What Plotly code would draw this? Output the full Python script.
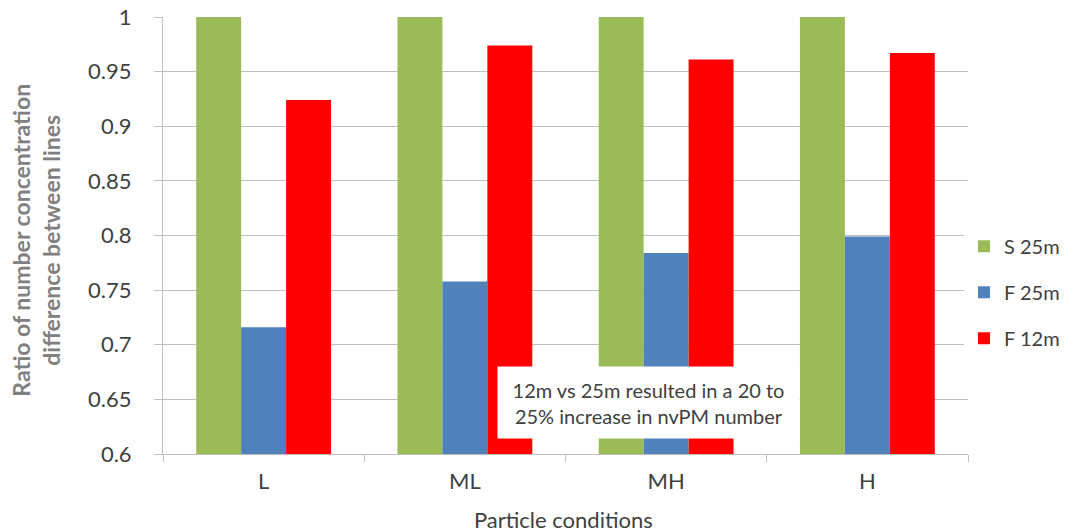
import plotly.graph_objects as go

# Particle condition categories and ratio values per line/series
conditions = ["L", "ML", "MH", "H"]
s_25m = [1.0, 1.0, 1.0, 1.0]
f_25m = [0.716, 0.758, 0.784, 0.799]
f_12m = [0.924, 0.974, 0.961, 0.967]
y_ticks = [0.6, 0.65, 0.7, 0.75, 0.8, 0.85, 0.9, 0.95, 1.0]
y_ticklabels = ["0.6", "0.65", "0.7", "0.75", "0.8", "0.85", "0.9", "0.95", "1"]

series = [
    ("S 25m", s_25m, "#9BBB59"),
    ("F 25m", f_25m, "#4F81BD"),
    ("F 12m", f_12m, "#FF0000"),
]

FONT = "Lato, 'Open Sans', sans-serif"
TXT = "#404040"

fig = go.Figure()
for name, vals, color in series:
    fig.add_trace(go.Bar(
        x=conditions, y=vals, name=name,
        marker=dict(color=color, line=dict(width=0)),
        legendgroup=name,
    ))

# the page body adds an 8px offset, so margins are shifted up/left by 8px
fig.update_layout(
    barmode="group",
    bargap=0.33,
    bargroupgap=0,
    width=1073, height=530,
    margin=dict(l=155, r=113, t=9, b=84, autoexpand=False),
    plot_bgcolor="white",
    paper_bgcolor="white",
    font=dict(family=FONT, size=20, color=TXT),
    legend=dict(
        x=0.995, y=0.37, xanchor="left", yanchor="middle",
        font=dict(size=20, color=TXT),
        tracegroupgap=17, itemwidth=30,
    ),
)

fig.update_yaxes(
    range=[0.6, 1.0], tickvals=y_ticks, ticktext=y_ticklabels,
    showgrid=True, gridcolor="#BFBFBF", gridwidth=1,
    showline=True, linecolor="#BFBFBF", linewidth=1,
    ticks="outside", ticklen=8, tickcolor="#BFBFBF",
    ticklabelstandoff=18, ticklabeloverflow="allow",
    zeroline=False, automargin=False,
    tickfont=dict(size=22, color=TXT),
)
fig.update_xaxes(
    showline=True, linecolor="#BFBFBF", linewidth=1,
    ticks="outside", ticklen=7, tickcolor="#BFBFBF",
    ticklabelstandoff=8,
    tickson="boundaries", showgrid=False, automargin=False,
    tickfont=dict(size=22, color=TXT),
)

# x axis title (sits at the bottom edge, as in the source image)
fig.add_annotation(
    text="Particle conditions", xref="paper", yref="paper",
    x=0.497, y=-0.149, xanchor="center", yanchor="middle", showarrow=False,
    font=dict(size=22, color=TXT),
)

# y axis title (two lines, bold grey)
fig.add_annotation(
    text="<b>Ratio of number concentration<br>difference between lines</b>",
    xref="paper", yref="paper", x=-0.158, y=0.49,
    xanchor="center", yanchor="middle", textangle=-90, showarrow=False,
    font=dict(size=23, color="#808080", family=FONT),
)

# text box laid over the bars
fig.add_annotation(
    text="12m vs 25m resulted in a 20 to<br>25% increase in nvPM number",
    xref="x", yref="y", x=1.913, y=0.6471, showarrow=False,
    bgcolor="white", borderpad=8, width=285, height=55,
    font=dict(size=20, color=TXT),
)

fig.write_html("out.html")
